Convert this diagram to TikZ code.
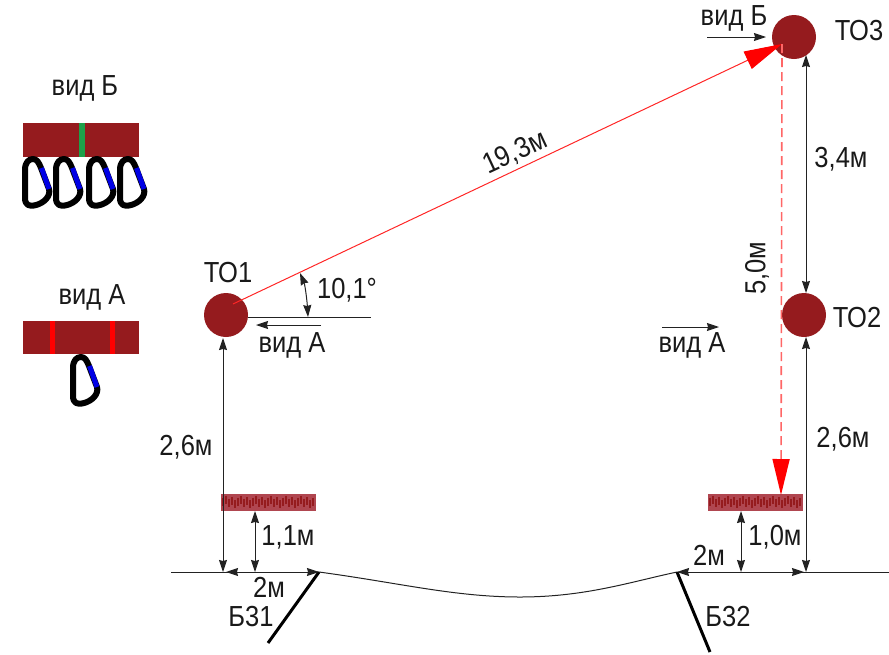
\documentclass[tikz,border=0pt]{standalone}
\usepackage{fontspec}
\setmainfont[FakeStretch=0.88]{Liberation Sans}
\usetikzlibrary{arrows.meta}
\definecolor{darkred}{HTML}{951B1E}
\definecolor{barred}{HTML}{B04650}
\definecolor{greenstrip}{HTML}{1EA04A}
\definecolor{lineblack}{HTML}{222222}
\tikzset{
  lbl/.style={font=\fontsize{29}{29}\selectfont,text=black!90,inner sep=0pt},
  ball/.style={circle,fill=darkred,minimum size=44pt,inner sep=0pt},
  dim/.style={draw=lineblack,line width=1pt,{Stealth[length=12pt,width=8pt,inset=1pt]}-{Stealth[length=12pt,width=8pt,inset=1pt]}},
  dimone/.style={draw=lineblack,line width=1pt,-{Stealth[length=12pt,width=8pt,inset=1pt]}},
  ground/.style={draw=lineblack,line width=1pt},
  wall/.style={draw=black,line width=3pt},
  redline/.style={draw=red!85,line width=1pt,-{Stealth[length=38pt,width=19pt,inset=0pt,color=red,fill=red]}},
  reddash/.style={draw=red!60,line width=1.6pt,dash pattern=on 9pt off 5pt,-{Stealth[length=36pt,width=17pt,inset=0pt,color=red,fill=red]}},
  plank/.style={fill=barred,minimum width=95pt,minimum height=17pt,inner sep=0pt},
  bolt/.style={draw=black,line width=6pt,line join=round},
  gate/.style={draw=blue!90!black,line width=5pt},
  pics/carab/.style={code={
    \draw[bolt] (3,14) .. controls (3,6) and (7,3) .. (11,3)
       .. controls (15,3) and (17,7) .. (19,12) -- (27,33)
       .. controls (29,40) and (22,47) .. (14,49) .. controls (7,51) and (3,49) .. (3,42) -- cycle;
    \draw[gate] (19.5,12) -- (27,33);
  }}
}
\begin{document}
\begin{tikzpicture}[x=1pt,y=-1pt]
\useasboundingbox (0,0) rectangle (889,654);
% anchors
\coordinate (gl) at (171,572);
\coordinate (g1) at (223,572);
\coordinate (gb1) at (319,572);
\coordinate (gb2) at (677,572);
\coordinate (g2) at (806,572);
\coordinate (gr) at (889,572);
\coordinate (g11) at (255,572);
\coordinate (g10) at (741,572);
\coordinate (w1) at (268,643);
\coordinate (w2) at (710,652);
% ground
\draw[ground] (gb1) .. controls (400,583) and (455,597) .. (520,597) .. controls (585,597) and (630,582) .. (gb2);
\draw[ground] (gl) -- (gb1);
\draw[ground] (gb2) -- (gr);
\draw[wall] (gb1) -- (w1);
\draw[wall] (gb2) -- (w2);
% balls
\node[ball] (to1) at (226,315) {};
\node[ball] (to3) at (794,37) {};
\node[ball] (to2) at (804,315) {};
% planks
\node[plank] (p1) at (268.5,502.5) {};
\node[plank] (p2) at (755.5,502.5) {};
\foreach \pp in {p1,p2}{
  \foreach \i in {2,5,...,92}{
    \draw[darkred,line width=1.4pt] ([xshift=\i pt,yshift={-2-mod(\i,5)}]\pp.north west) -- ++(0,{10-mod(\i,3)});
  }
}
% dimensions
\coordinate (t3b) at (806,55);
\coordinate (t2t) at (806,293);
\coordinate (t2b) at (806,337);
\coordinate (t1b) at (223,338);
\draw[dim] (t3b) -- (t2t);
\draw[dim] (t2b) -- (g2);
\draw[dim] (t1b) -- (g1);
\draw[dim] (255,511) -- (g11);
\draw[dim] (741,511) -- (g10);
\draw[dim] (226,572) -- (gb1);
\draw[dim] (gb2) -- (804,572);
% red
\coordinate (r1) at (233,304);
\coordinate (r3) at (782,44);
\coordinate (r2) at (781,495);
\draw[redline] (r1) -- (r3);
\draw[reddash] (r3) -- (r2);
% angle
\coordinate (a0) at (248,317);
\coordinate (a1) at (371,317);
\coordinate (a2) at (300,273);
\coordinate (a3) at (308,317);
\draw[ground] (a0) -- (a1);
\draw[dim] (a2) .. controls (305,285) and (307,300) .. (a3);
% view arrows
\coordinate (va1) at (321,325); \coordinate (va2) at (256,325);
\coordinate (va3) at (662,327); \coordinate (va4) at (719,327);
\coordinate (vb1) at (707,37); \coordinate (vb2) at (766,37);
\draw[dimone] (va1) -- (va2);
\draw[dimone] (va3) -- (va4);
\draw[dimone] (vb1) -- (vb2);
% labels
\node[lbl] (l1) at (228,273) {ТО1};
\node[lbl] (l2) at (859,31) {ТО3};
\node[lbl] (l3) at (857,318) {ТО2};
\node[lbl] (l4) at (347,290) {10,1°};
\node[lbl] (l5) at (292,345) {вид А};
\node[lbl] (l6) at (692,345) {вид А};
\node[lbl] (l7) at (734,18) {вид Б};
\node[lbl] (l8) at (85,88) {вид Б};
\node[lbl] (l9) at (92,297) {вид А};
\node[lbl] (l10) at (186,447) {2,6м};
\node[lbl] (l11) at (288,537) {1,1м};
\node[lbl] (l12) at (269,587) {2м};
\node[lbl] (l13) at (251,617) {Б31};
\node[lbl] (l14) at (775,537) {1,0м};
\node[lbl] (l15) at (709,555) {2м};
\node[lbl] (l16) at (728,617) {Б32};
\node[lbl] (l17) at (843,439) {2,6м};
\node[lbl] (l18) at (841,159) {3,4м};
\node[lbl,rotate=90] (l19) at (757,268) {5,0м};
\node[lbl,rotate=25] (l20) at (515,153) {19,3м};
% view B
\node[fill=darkred,minimum width=116pt,minimum height=34pt,inner sep=0pt] (bb) at (81,140) {};
\fill[greenstrip] (79,123) rectangle (85,157);
\pic at (22,156) {carab};
\pic at (53,156) {carab};
\pic at (86,156) {carab};
\pic at (117,156) {carab};
% view A
\node[fill=darkred,minimum width=116pt,minimum height=33pt,inner sep=0pt] (ba) at (81,337.5) {};
\fill[red] (50,321) rectangle (55,354);
\fill[red] (110,321) rectangle (115,354);
\pic at (70,354) {carab};
\end{tikzpicture}
\end{document}
